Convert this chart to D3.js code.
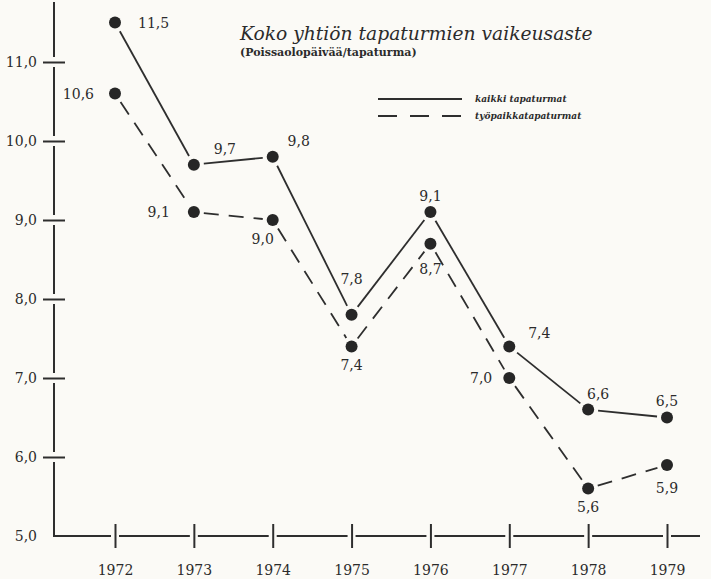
<!DOCTYPE html>
<html>
<head>
<meta charset="utf-8">
<script src="https://cdn.jsdelivr.net/npm/d3@7"></script>
<style>
  body { margin: 0; background: #fbfaf6; }
  svg { display: block; }
  text { font-family: "DejaVu Serif", serif; fill: #2b2b2b; }
</style>
</head>
<body>
<div id="chart"></div>
<script>
// data
var years = [1972, 1973, 1974, 1975, 1976, 1977, 1978, 1979];
var kaikki = [11.5, 9.7, 9.8, 7.8, 9.1, 7.4, 6.6, 6.5];
var tyopaikka = [10.6, 9.1, 9.0, 7.4, 8.7, 7.0, 5.6, 5.9];
var yTickValues = [5, 6, 7, 8, 9, 10, 11];
var seriesNames = ["kaikki tapaturmat", "työpaikkatapaturmat"];
var title = "Koko yhtiön tapaturmien vaikeusaste";
var subtitle = "(Poissaolopäivää/tapaturma)";

// where each value label sits around its dot: [anchor, dx, dy]
var kaikkiLabelPos = [
    ["start", 23, 0], ["middle", 31, -16], ["middle", 26, -16], ["middle", 0, -36],
    ["middle", 0, -16], ["middle", 30, -13], ["middle", 10, -16], ["middle", 0, -17]
];
var tyopaikkaLabelPos = [
    ["end", -21, 0], ["end", -24, 0], ["middle", -10, 19], ["middle", 0, 19],
    ["middle", 0, 25], ["end", -17, 0], ["middle", 0, 18], ["middle", 0, 23]
];

var svgWidth = 711;
var svgHeight = 579;
var axisLeftX = 54;
var axisBottomY = 536;
var ink = "#2e2e2e";
var serif = "'DejaVu Serif', serif";

var svg = d3.select("#chart")
    .append("svg")
    .attr("width", svgWidth)
    .attr("height", svgHeight);

svg.append("rect")
    .attr("width", svgWidth)
    .attr("height", svgHeight)
    .attr("fill", "#fbfaf6");

// scales
var xScale = d3.scalePoint()
    .domain(years)
    .range([115, 667]);

var yScale = d3.scaleLinear()
    .domain([5, 11])
    .range([axisBottomY, 62]);

var commaFormat = d => d3.format(".1f")(d).replace(".", ",");

// y axis: ticks cross the line, line is broken round each tick
var yAxisGroup = svg.append("g")
    .attr("transform", `translate(${axisLeftX}, 0)`)
    .call(d3.axisLeft(yScale)
        .tickValues(yTickValues)
        .tickSize(11)
        .tickPadding(6)
        .tickFormat(commaFormat));

yAxisGroup.attr("font-family", serif);
yAxisGroup.select(".domain").remove();
yAxisGroup.selectAll(".tick line")
    .attr("stroke", ink)
    .attr("stroke-width", 2)
    .attr("x2", -11);
yAxisGroup.selectAll(".tick")
    .filter(d => d > 5)
    .append("line")
    .attr("x1", 0)
    .attr("x2", 11)
    .attr("stroke", ink)
    .attr("stroke-width", 2);
yAxisGroup.selectAll(".tick")
    .filter(d => d === 5)
    .select("line")
    .remove();
yAxisGroup.selectAll(".tick text")
    .attr("font-size", "14px")
    .attr("fill", "#2b2b2b");

var xAxisGroup = svg.append("g")
    .attr("transform", `translate(0, ${axisBottomY})`)
    .call(d3.axisBottom(xScale)
        .tickSize(12)
        .tickPadding(17));

xAxisGroup.attr("font-family", serif);
xAxisGroup.select(".domain").remove();
xAxisGroup.selectAll(".tick line")
    .attr("stroke", ink)
    .attr("stroke-width", 2);
xAxisGroup.selectAll(".tick")
    .append("line")
    .attr("y1", 0)
    .attr("y2", -12)
    .attr("stroke", ink)
    .attr("stroke-width", 2);
xAxisGroup.selectAll(".tick text")
    .attr("font-size", "14px")
    .attr("fill", "#2b2b2b");

// broken axis lines
function gaps(start, end, cuts, gap) {
    var stops = [start];
    cuts.forEach(c => { stops.push(c - gap); stops.push(c + gap); });
    stops.push(end);
    var segs = [];
    for (var i = 0; i < stops.length; i += 2) segs.push([stops[i], stops[i + 1]]);
    return segs;
}

var yCuts = yTickValues.filter(v => v > 5).map(yScale).sort((a, b) => a - b);
svg.append("g").selectAll("line")
    .data(gaps(2, axisBottomY + 1, yCuts, 5))
    .enter()
    .append("line")
    .attr("x1", axisLeftX)
    .attr("x2", axisLeftX)
    .attr("y1", d => d[0])
    .attr("y2", d => d[1])
    .attr("stroke", ink)
    .attr("stroke-width", 2);

var xCuts = years.map(xScale);
svg.append("g").selectAll("line")
    .data(gaps(axisLeftX - 1, 700, xCuts, 4))
    .enter()
    .append("line")
    .attr("x1", d => d[0])
    .attr("x2", d => d[1])
    .attr("y1", axisBottomY)
    .attr("y2", axisBottomY)
    .attr("stroke", ink)
    .attr("stroke-width", 2);

// series: segments stop short of the dots
function segments(values, pad) {
    var segs = [];
    for (var i = 0; i < values.length - 1; i++) {
        var x1 = xScale(years[i]), y1 = yScale(values[i]);
        var x2 = xScale(years[i + 1]), y2 = yScale(values[i + 1]);
        var len = Math.hypot(x2 - x1, y2 - y1);
        var ux = (x2 - x1) / len, uy = (y2 - y1) / len;
        segs.push([x1 + ux * pad, y1 + uy * pad, x2 - ux * pad, y2 - uy * pad]);
    }
    return segs;
}

function drawSeries(values, dash, labelPos) {
    var g = svg.append("g");

    g.selectAll("line")
        .data(segments(values, 10))
        .enter()
        .append("line")
        .attr("x1", d => d[0])
        .attr("y1", d => d[1])
        .attr("x2", d => d[2])
        .attr("y2", d => d[3])
        .attr("stroke", ink)
        .attr("stroke-width", 1.8)
        .attr("stroke-dasharray", dash);

    g.selectAll("circle")
        .data(values)
        .enter()
        .append("circle")
        .attr("cx", (d, i) => xScale(years[i]))
        .attr("cy", d => yScale(d))
        .attr("r", 6)
        .attr("fill", "#262626");

    g.selectAll("text")
        .data(values)
        .enter()
        .append("text")
        .attr("x", (d, i) => xScale(years[i]) + labelPos[i][1])
        .attr("y", (d, i) => yScale(d) + labelPos[i][2])
        .attr("text-anchor", (d, i) => labelPos[i][0])
        .attr("dominant-baseline", "central")
        .attr("font-size", "14px")
        .text(d => commaFormat(d));
}

drawSeries(kaikki, null, kaikkiLabelPos);
drawSeries(tyopaikka, "15,10", tyopaikkaLabelPos);

// title
svg.append("text")
    .attr("x", 240)
    .attr("y", 40)
    .attr("font-size", "18.7px")
    .attr("font-style", "italic")
    .text(title);

svg.append("text")
    .attr("x", 240)
    .attr("y", 56)
    .attr("font-size", "11px")
    .attr("font-weight", "bold")
    .attr("fill", "#3a3a3a")
    .text(subtitle);

// legend
var legend = svg.append("g");
var legendDash = [null, "19,13"];
seriesNames.forEach(function (name, i) {
    var ly = 99 + i * 17;
    legend.append("line")
        .attr("x1", 378)
        .attr("x2", 462)
        .attr("y1", ly)
        .attr("y2", ly)
        .attr("stroke", ink)
        .attr("stroke-width", 1.8)
        .attr("stroke-dasharray", legendDash[i]);
    legend.append("text")
        .attr("x", 475)
        .attr("y", ly)
        .attr("dominant-baseline", "central")
        .attr("font-size", "9px")
        .attr("font-style", "italic")
        .attr("font-weight", "bold")
        .text(name);
});
</script>
</body>
</html>
